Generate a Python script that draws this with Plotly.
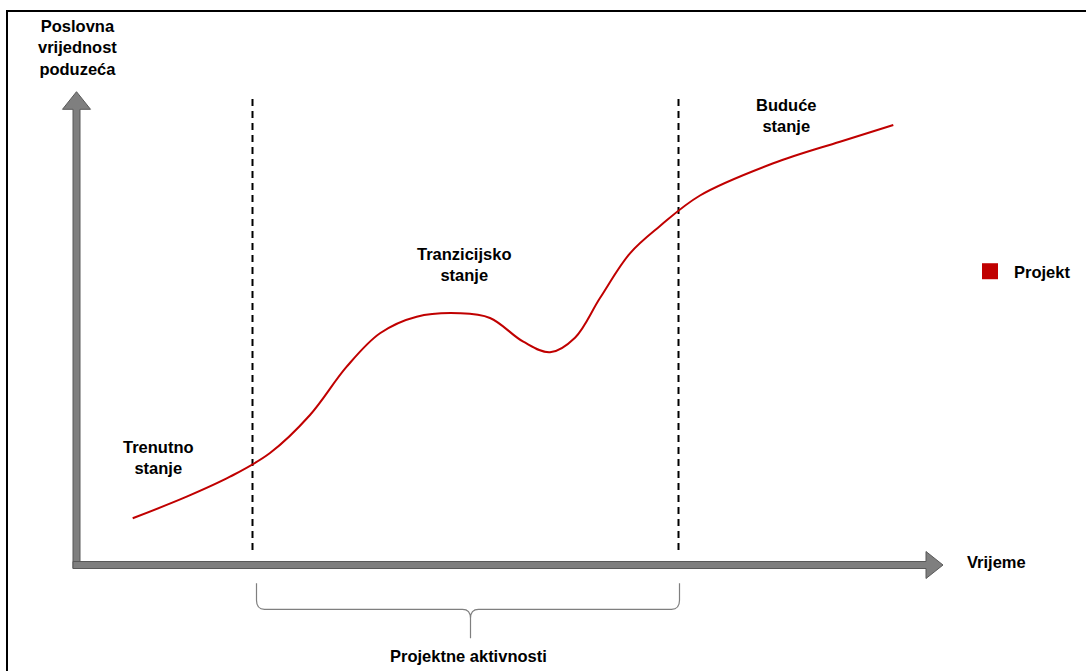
import plotly.graph_objects as go

# ---- data (time units vs. business value units) ----
curve_t = [5.62, 11.02, 15.35, 19.35, 23.35, 27.02, 30.35, 34.02, 38.35, 41.35, 44.68,
           47.35, 49.85, 52.35, 55.35, 58.35, 62.35, 69.68, 76.35, 81.68]
curve_v = [4.67, 6.83, 8.83, 11.2, 15.0, 19.83, 23.17, 24.83, 25.17, 24.7, 22.33,
           21.27, 22.73, 26.7, 31.17, 33.9, 36.95, 40.17, 42.33, 44.0]
phase_bounds_t = [17.6, 60.2]
phase_line_v = [1.5, 46.8]
series_name = "Projekt"
y_title = "Poslovna<br>vrijednost<br>poduzeća"
x_title = "Vrijeme"
state_labels = ["Trenutno<br>stanje", "Tranzicijsko<br>stanje", "Buduće<br>stanje"]
state_label_t = [8.15, 38.75, 70.95]
state_label_v = [10.8, 30.1, 45.0]
brace_label = "Projektne aktivnosti"

RED = "#c00000"
GRAY = "#7f7f7f"
DARKGRAY = "#595959"
FONT = "Liberation Sans, Arial, sans-serif"
FS = 16.5

fig = go.Figure()

# phase boundary dashed lines
for t in phase_bounds_t:
    fig.add_trace(go.Scatter(x=[t, t], y=phase_line_v, mode="lines",
                             line=dict(color="black", width=2, dash="7px,5px"),
                             showlegend=False, hoverinfo="skip"))

# main curve
fig.add_trace(go.Scatter(x=curve_t, y=curve_v, mode="lines",
                         line=dict(color=RED, width=2, shape="spline", smoothing=1.0),
                         showlegend=False, name=series_name))

# legend entry (square)
fig.add_trace(go.Scatter(x=[None], y=[None], mode="markers", name=series_name,
                         marker=dict(symbol="square", size=18, color=RED)))

shapes = []
# y-axis arrow
sw = 0.35
shapes.append(dict(type="path", xref="x", yref="y",
                   path=f"M {-sw},{-sw} L {sw},{-sw} L {sw},45.57 L 1.4,45.57 L 0,47.33 "
                        f"L -1.4,45.57 L {-sw},45.57 Z",
                   fillcolor=GRAY, line=dict(color=DARKGRAY, width=1)))
# x-axis arrow
shapes.append(dict(type="path", xref="x", yref="y",
                   path=f"M {-sw},{-sw} L 84.95,{-sw} L 84.95,-1.35 L 86.65,0 L 84.95,1.35 "
                        f"L 84.95,{sw} L {-sw},{sw} Z",
                   fillcolor=GRAY, line=dict(color=DARKGRAY, width=1)))
# brace
L, R, C = 18.0, 60.3, 39.4
top, mid, tip = -1.83, -4.43, -7.33
shapes.append(dict(type="path", xref="x", yref="y",
                   path=(f"M {L},{top} L {L},{mid+0.9} Q {L},{mid} {L+0.8},{mid} "
                         f"L {C-0.8},{mid} Q {C},{mid} {C},{mid-0.9} L {C},{tip} "
                         f"M {C},{mid-0.9} Q {C},{mid} {C+0.8},{mid} "
                         f"L {R-0.8},{mid} Q {R},{mid} {R},{mid+0.9} L {R},{top}"),
                   line=dict(color=GRAY, width=1.2)))
# outer frame
shapes.append(dict(type="rect", xref="paper", yref="paper",
                   x0=7/1086, y0=-0.02, x1=1.02, y1=1-11/671,
                   line=dict(color="black", width=2), fillcolor="rgba(0,0,0,0)"))

annotations = []
txtfont = dict(family=FONT, size=FS, color="black")
annotations.append(dict(x=0.1, y=51.8, xref="x", yref="y", text=f"<b>{y_title}</b>",
                        showarrow=False, font=txtfont, align="center"))
for lab, t, v in zip(state_labels, state_label_t, state_label_v):
    annotations.append(dict(x=t, y=v, xref="x", yref="y", text=f"<b>{lab}</b>",
                            showarrow=False, font=txtfont, align="center"))
annotations.append(dict(x=88.85, y=0.3, xref="x", yref="y", text=f"<b>{x_title}</b>",
                        showarrow=False, font=txtfont, xanchor="left"))
annotations.append(dict(x=39.15, y=-9.1, xref="x", yref="y", text=f"<b>{brace_label}</b>",
                        showarrow=False, font=txtfont))

fig.update_layout(
    width=1086, height=671,
    margin=dict(l=0, r=0, t=0, b=0),
    paper_bgcolor="white", plot_bgcolor="white",
    xaxis=dict(range=[-7.65, 100.95], visible=False, fixedrange=True),
    yaxis=dict(range=[-10.6, 56.5], visible=False, fixedrange=True),
    shapes=shapes, annotations=annotations,
    showlegend=True,
    legend=dict(x=966/1086, y=1-271.5/671, xanchor="left", yanchor="middle",
                itemwidth=38, bgcolor="rgba(0,0,0,0)",
                font=dict(family=FONT, size=FS, color="black", weight="bold")),
)

fig.write_html("out.html", config={"displayModeBar": False},
               post_script="document.body.style.margin='0';document.body.style.overflow='hidden';")
